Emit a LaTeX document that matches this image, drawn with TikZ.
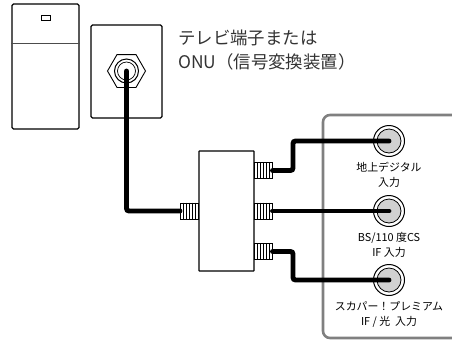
\documentclass[tikz,border=0pt]{standalone}
\usepackage{fontspec}
\setmainfont{Noto Sans CJK JP}
\usetikzlibrary{shapes.geometric}

\definecolor{panelgray}{gray}{0.5}
\definecolor{jackgray}{gray}{0.82}

\tikzset{
  outline/.style={draw=black,line width=1.1pt,rounded corners=1.5pt,fill=white,inner sep=0pt},
  plug/.style={draw=black,line width=1pt,fill=white,inner sep=0pt,minimum width=18pt,minimum height=16pt},
  jack/.style={circle,draw=black,line width=1pt,fill=white,inner sep=0pt,minimum size=31pt},
  cable/.style={line width=4.9pt,rounded corners=2.5pt,line cap=round},
  caption/.style={inner sep=0pt,align=center,font=\fontsize{10.9}{15}\selectfont},
  note/.style={inner sep=0pt,anchor=west,text=black!80,font=\fontsize{17.4}{24}\selectfont}
}

\begin{document}
\begin{tikzpicture}[x=1pt,y=-1pt]
    \useasboundingbox (0,0) rectangle (452,341);

    % Panel
    \draw[panelgray,line width=2.6pt,rounded corners=7pt](452,115) -- (323,115) -- (323,338) -- (452,338);

    % Wall box
    \node[outline,minimum width=67pt,minimum height=125pt] (box) at (45.5,66.5) {};
    \draw[black!70,line width=1pt] (box.west |- 0,43) -- (box.east |- 0,43);
    \node[draw=black,line width=.9pt,inner sep=0pt,minimum width=9pt,minimum height=5pt] (lamp) at (45.5,17.5) {};

    % Wall plate
    \node[outline,minimum width=71pt,minimum height=93pt] (plate) at (126.5,71.5) {};
    \node[regular polygon,regular polygon sides=6,draw=black,line width=.9pt,inner sep=0pt,minimum size=38pt] (hex) at (126.5,71) {};
    \node[circle,draw=black,line width=1pt,inner sep=0pt,minimum size=24pt] (outlet) at (126.5,71) {};
    \node[circle,draw=black,line width=.7pt,inner sep=0pt,minimum size=18pt] (outletin) at (126.5,71) {};
    \node[note] (tv) at (178,38) {テレビ端子または};
    \node[note] (onu) at (178,62) {ONU（信号変換装置）};

    % Splitter and plugs
    \node[outline,rounded corners=.5pt,minimum width=55pt,minimum height=120pt] (split) at (226.5,211) {};
    \node[plug] (plugin) at (189.5,211) {};
    \node[plug] (pluga) at (263,170.5) {};
    \node[plug] (plugb) at (263,211) {};
    \node[plug] (plugc) at (263,251.5) {};
    \foreach \p in {plugin,pluga,plugb,plugc}
      \foreach \s in {-6,-3,0,3,6}
        \draw[line width=.6pt] ([xshift=\s pt]\p.north) -- ([xshift=\s pt]\p.south);

    % Jacks
    \foreach \n/\y in {jacka/141,jackb/211,jackc/280}{
      \node[jack] (\n) at (389,\y) {};
      \node[circle,draw=black,line width=.8pt,fill=jackgray,inner sep=0pt,minimum size=24pt] (\n in) at (389,\y) {};
    }

    % Cables
    \coordinate (benda) at (293,170.5);
    \coordinate (bendc) at (293,251.5);
    \draw[cable] (outlet.center) -- (outlet.center |- plugin) -- (plugin.west);
    \draw[cable] (pluga.east) -- (benda) -- (benda |- jacka) -- (jacka.center);
    \draw[cable] (plugb.east) -- (jackb.center);
    \draw[cable] (plugc.east) -- (bendc) -- (bendc |- jackc) -- (jackc.center);

    % Labels
    \node[caption] (laba) at (389,175) {地上デジタル\\入力};
    \node[caption] (labb) at (389,245) {BS/110 度CS\\IF 入力};
    \node[caption] (labc) at (389,314.5) {スカパー！プレミアム\\IF / 光\ \ 入力};
\end{tikzpicture}
\end{document}
